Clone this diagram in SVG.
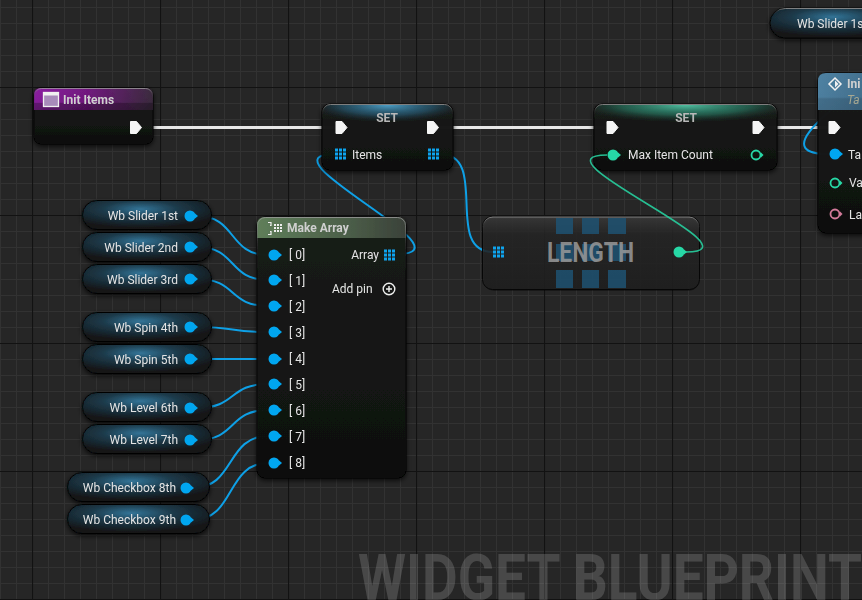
<svg xmlns="http://www.w3.org/2000/svg" xmlns:xlink="http://www.w3.org/1999/xlink" width="862" height="600" viewBox="0 0 862 600">
<defs>
<style>
.t{font-family:Roboto,"Liberation Sans",sans-serif;font-size:12px;fill:#e4e4e4}
.hb{font-family:Roboto,"Liberation Sans",sans-serif;font-size:12px;font-weight:bold;fill:#d0d0d0}
.set{font-family:Roboto,"Liberation Sans",sans-serif;font-size:12px;font-weight:bold;fill:#b8b8b8}
.nb{fill:url(#bodyG);stroke:#050505;stroke-width:1}
.rim{fill:none;stroke:url(#rimG);stroke-width:1}
.pill{fill:url(#pillG);stroke:#060606;stroke-width:1}
.w{fill:none;stroke:#0ea0e6;stroke-width:2}
.wg{fill:none;stroke:#27cf9e;stroke-width:1.6}
.ex{fill:none;stroke:#e6e6e6;stroke-width:3}
.exp{fill:#f5f5f5;stroke:#f5f5f5;stroke-width:1;stroke-linejoin:round}
</style>
<pattern id="minor" x="0" y="7" width="16" height="16" patternUnits="userSpaceOnUse">
<path d="M0.5 0V16M0 0.5H16" stroke="#323232" stroke-width="1" fill="none"/>
</pattern>
<pattern id="major" x="32" y="87" width="128" height="128" patternUnits="userSpaceOnUse">
<path d="M0.5 0V128M0 0.5H128" stroke="#121212" stroke-width="1.2" fill="none"/>
</pattern>
<linearGradient id="bodyG" x1="0" y1="0" x2="0" y2="1">
<stop offset="0" stop-color="#1a1c1a" stop-opacity="0.96"/>
<stop offset="1" stop-color="#0f100f" stop-opacity="0.96"/>
</linearGradient>
<linearGradient id="rimG" x1="0" y1="0" x2="0" y2="1">
<stop offset="0" stop-color="#9a9a9a" stop-opacity="0.8"/>
<stop offset="0.12" stop-color="#444" stop-opacity="0.3"/>
<stop offset="0.3" stop-color="#000" stop-opacity="0"/>
</linearGradient>
<radialGradient id="pillG" cx="0.45" cy="0.3" r="0.65">
<stop offset="0" stop-color="#327497"/>
<stop offset="0.45" stop-color="#1d3a4a"/>
<stop offset="1" stop-color="#121517"/>
</radialGradient>
<linearGradient id="purpleH" x1="0" y1="0" x2="1" y2="0">
<stop offset="0" stop-color="#8c1fa2"/>
<stop offset="0.45" stop-color="#72197f"/>
<stop offset="1" stop-color="#3c2c3f"/>
</linearGradient>
<linearGradient id="greenH" x1="0" y1="0" x2="1" y2="0">
<stop offset="0" stop-color="#5f7e5a"/>
<stop offset="0.6" stop-color="#4c5f49"/>
<stop offset="1" stop-color="#3a4139"/>
</linearGradient>
<linearGradient id="blueH" x1="0" y1="0" x2="1" y2="0">
<stop offset="0" stop-color="#4f82a3"/>
<stop offset="1" stop-color="#3c6784"/>
</linearGradient>
<linearGradient id="shadeH" x1="0" y1="0" x2="0" y2="1">
<stop offset="0" stop-color="#000" stop-opacity="0"/>
<stop offset="0.65" stop-color="#000" stop-opacity="0.05"/>
<stop offset="0.7" stop-color="#000" stop-opacity="0.3"/>
<stop offset="1" stop-color="#000" stop-opacity="0.35"/>
</linearGradient>
<radialGradient id="setBlue" cx="0.5" cy="0" r="0.6">
<stop offset="0" stop-color="#4fa6d0" stop-opacity="0.95"/>
<stop offset="0.6" stop-color="#2a6a8a" stop-opacity="0.55"/>
<stop offset="1" stop-color="#1a3a4a" stop-opacity="0"/>
</radialGradient>
<radialGradient id="setGreen" cx="0.5" cy="0" r="0.6">
<stop offset="0" stop-color="#52c8a8" stop-opacity="0.95"/>
<stop offset="0.6" stop-color="#2a8a70" stop-opacity="0.55"/>
<stop offset="1" stop-color="#1a4a3a" stop-opacity="0"/>
</radialGradient>
<linearGradient id="lenG" x1="0" y1="0" x2="0" y2="1">
<stop offset="0" stop-color="#3c3c3c" stop-opacity="0.85"/>
<stop offset="0.25" stop-color="#272727" stop-opacity="0.8"/>
<stop offset="1" stop-color="#202020" stop-opacity="0.85"/>
</linearGradient>
<filter id="sh" x="-20%" y="-20%" width="140%" height="150%">
<feDropShadow dx="0" dy="2" stdDeviation="2.5" flood-color="#000" flood-opacity="0.75"/>
</filter>
<g id="pinB"><circle r="5.5" fill="#06a6f0"/><path d="M5 -2.5L8 0L5 2.5Z" fill="#06a6f0"/></g>
<g id="pinG"><circle r="5.5" fill="#27d8a6"/><path d="M5 -2.5L8 0L5 2.5Z" fill="#27d8a6"/></g>
<g id="arr" fill="#0ea4ee"><rect x="0" y="0" width="3" height="3"/><rect x="4" y="0" width="3" height="3"/><rect x="8" y="0" width="3" height="3"/><rect x="0" y="4" width="3" height="3"/><rect x="4" y="4" width="3" height="3"/><rect x="8" y="4" width="3" height="3"/><rect x="0" y="8" width="3" height="3"/><rect x="4" y="8" width="3" height="3"/><rect x="8" y="8" width="3" height="3"/></g>
<path id="exec" d="M-5.5 -6H0.5L5.5 0L0.5 6H-5.5Z"/>
</defs>

<rect width="862" height="600" fill="#262626"/>
<rect width="862" height="600" fill="url(#minor)"/>
<rect width="862" height="600" fill="url(#major)"/>
<text x="358" y="600" font-family="Roboto,'Liberation Sans',sans-serif" font-size="64" font-weight="bold" fill="#ffffff" fill-opacity="0.16" textLength="504" lengthAdjust="spacingAndGlyphs">WIDGET BLUEPRINT</text>

<g id="connectors">
<path class="ex" d="M142 127.5H336"/>
<path class="ex" d="M439 127.5H607"/>
<path class="ex" d="M765 127.5H829"/>
<path class="w" d="M397 254C477 254 255 154 335 154"/>
<path class="w" d="M440 154C490 154 443 252 493 252"/>
<path class="w" d="M900 23C985 23 725 154 829 154"/>
<path class="w" d="M197 216C237 216 228 255 268 255"/>
<path class="w" d="M197 247C237 247 228 280 268 280"/>
<path class="w" d="M197 279C237 279 228 306 268 306"/>
<path class="w" d="M197 327C237 327 228 332 268 332"/>
<path class="w" d="M197 359C237 359 228 359 268 359"/>
<path class="w" d="M197 408C237 408 228 384 268 384"/>
<path class="w" d="M197 440C237 440 228 410 268 410"/>
<path class="w" d="M193 488C235 488 226 436 268 436"/>
<path class="w" d="M193 520C235 520 226 463 268 463"/>
</g>

<g id="node-init-items" filter="url(#sh)">
<rect class="nb" x="34" y="88" width="119" height="56" rx="7"/>
<path d="M34 110V95Q34 88 41 88H146Q153 88 153 95V110Z" fill="url(#purpleH)"/>
<path d="M34 110V95Q34 88 41 88H146Q153 88 153 95V110Z" fill="url(#shadeH)"/>
<rect class="rim" x="34.5" y="88.5" width="118" height="55" rx="7"/>
<rect x="43.5" y="92.5" width="15" height="14" fill="#a88bba" stroke="#f0f0f0" stroke-width="1.3"/>
<rect x="43.5" y="92.5" width="15" height="3" fill="#f0f0f0"/>
<text class="hb" x="63" y="104">Init Items</text>
<use href="#exec" x="136" y="127.5" class="exp"/>
</g>

<g id="node-set-items" filter="url(#sh)">
<rect class="nb" x="322" y="104" width="131" height="66" rx="8"/>
<rect x="323" y="105" width="129" height="28" rx="7" fill="url(#setBlue)"/>
<rect class="rim" x="322.5" y="104.5" width="130" height="65" rx="8"/>
<text class="set" x="387" y="122" text-anchor="middle">SET</text>
<use href="#exec" x="341.5" y="127.5" class="exp"/>
<use href="#exec" x="433" y="127.5" class="exp"/>
<use href="#arr" x="335" y="148.5"/>
<text class="t" x="352" y="159">Items</text>
<use href="#arr" x="428" y="148.5"/>
</g>

<g id="node-set-max" filter="url(#sh)">
<rect class="nb" x="594" y="104" width="183" height="66" rx="8"/>
<rect x="595" y="105" width="181" height="28" rx="7" fill="url(#setGreen)"/>
<rect class="rim" x="594.5" y="104.5" width="182" height="65" rx="8"/>
<text class="set" x="686" y="122" text-anchor="middle">SET</text>
<use href="#exec" x="612.5" y="127.5" class="exp"/>
<use href="#exec" x="758.5" y="127.5" class="exp"/>
<use href="#pinG" x="613" y="155"/>
<text class="t" x="628" y="159">Max Item Count</text>
<circle cx="756" cy="155" r="4.5" fill="none" stroke="#27d8a6" stroke-width="1.8"/>
<path d="M761 152.5L763.5 155L761 157.5Z" fill="#27d8a6"/>
</g>

<g id="node-init-partial" filter="url(#sh)">
<rect class="nb" x="818" y="73" width="70" height="160" rx="8"/>
<path d="M818 110V81Q818 73 826 73H888V110Z" fill="url(#blueH)"/>
<path d="M818 110V81Q818 73 826 73H888V110Z" fill="url(#shadeH)" opacity="0.5"/>
<path d="M835 78L841 84L835 90L829 84Z" fill="none" stroke="#f2f2f2" stroke-width="1.5"/>
<path d="M835 80.5L838.5 84L835 87.5Z" fill="#f2f2f2"/>
<text class="hb" x="847" y="88">Ini</text>
<text x="847" y="104" font-family="Roboto,'Liberation Sans',sans-serif" font-size="12" font-style="italic" fill="#a6a892">Ta</text>
<use href="#exec" x="834.5" y="127.5" class="exp"/>
<use href="#pinB" x="835" y="154"/>
<text class="t" x="848" y="159">Ta</text>
<circle cx="835" cy="183" r="4.5" fill="none" stroke="#27d8a6" stroke-width="1.8"/>
<path d="M840 180.5L842.5 183L840 185.5Z" fill="#27d8a6"/>
<text class="t" x="849" y="187">Va</text>
<circle cx="835" cy="214" r="4.5" fill="none" stroke="#d37a9a" stroke-width="1.8"/>
<path d="M840 211.5L842.5 214L840 216.5Z" fill="#d37a9a"/>
<text class="t" x="849" y="219">La</text>
</g>

<g id="node-wb-slider-top" filter="url(#sh)">
<rect class="pill" x="770" y="8" width="140" height="30" rx="15"/>
<rect class="rim" x="770.5" y="8.5" width="139" height="29" rx="15"/>
<text class="t" x="797" y="28">Wb Slider 1s</text>
</g>

<g id="node-make-array" filter="url(#sh)">
<rect class="nb" x="257" y="217" width="149" height="261" rx="8"/>
<path d="M257 238V225Q257 217 265 217H398Q406 217 406 225V238Z" fill="url(#greenH)"/>
<rect class="rim" x="257.5" y="217.5" width="148" height="260" rx="8"/>
<path d="M268 222.5h3v3h-1M268 234.5h3v-3h-1" fill="none" stroke="#eee" stroke-width="1.2"/>
<g fill="#eee"><rect x="274" y="224" width="2" height="2"/><rect x="277" y="224" width="2" height="2"/><rect x="280" y="224" width="2" height="2"/><rect x="274" y="227" width="2" height="2"/><rect x="277" y="227" width="2" height="2"/><rect x="280" y="227" width="2" height="2"/><rect x="274" y="230" width="2" height="2"/><rect x="277" y="230" width="2" height="2"/><rect x="280" y="230" width="2" height="2"/></g>
<text class="hb" x="287" y="232">Make Array</text>
<use href="#pinB" x="274" y="255"/><text class="t" x="289" y="259">[ 0]</text>
<use href="#pinB" x="274" y="280"/><text class="t" x="289" y="285">[ 1]</text>
<use href="#pinB" x="274" y="306"/><text class="t" x="289" y="311">[ 2]</text>
<use href="#pinB" x="274" y="332"/><text class="t" x="289" y="337">[ 3]</text>
<use href="#pinB" x="274" y="359"/><text class="t" x="289" y="363">[ 4]</text>
<use href="#pinB" x="274" y="384"/><text class="t" x="289" y="389">[ 5]</text>
<use href="#pinB" x="274" y="410"/><text class="t" x="289" y="415">[ 6]</text>
<use href="#pinB" x="274" y="436"/><text class="t" x="289" y="441">[ 7]</text>
<use href="#pinB" x="274" y="463"/><text class="t" x="289" y="467">[ 8]</text>
<text class="t" x="379" y="259" text-anchor="end">Array</text>
<use href="#arr" x="384" y="249.5"/>
<text class="t" x="332" y="293">Add pin</text>
<circle cx="389" cy="289" r="5.8" fill="none" stroke="#eee" stroke-width="1.4"/>
<path d="M386 289H392M389 286V292" stroke="#eee" stroke-width="1.4"/>
</g>

<g id="node-length">
<rect x="484" y="219" width="215" height="72" rx="10" fill="#000" fill-opacity="0.35"/>
<rect x="482.5" y="216.5" width="217" height="73" rx="10" fill="url(#lenG)" stroke="#060606"/>
<rect class="rim" x="483" y="217" width="216" height="72" rx="10"/>
<g fill="#1f5272" fill-opacity="0.85">
<rect x="556" y="218" width="17" height="16"/><rect x="582" y="218" width="17" height="16"/><rect x="608" y="218" width="18" height="16"/>
<rect x="556" y="244" width="17" height="17"/><rect x="582" y="244" width="17" height="17"/><rect x="608" y="244" width="18" height="17"/>
<rect x="556" y="270" width="17" height="18"/><rect x="582" y="270" width="17" height="18"/><rect x="608" y="270" width="18" height="18"/>
</g>
<text x="547" y="262" font-family="Roboto,'Liberation Sans',sans-serif" font-size="28" font-weight="bold" fill="#9a9a9a" fill-opacity="0.85" textLength="87" lengthAdjust="spacingAndGlyphs">LENGTH</text>
<use href="#arr" x="493" y="246.5"/>
<use href="#pinG" x="679" y="252"/>
</g>

<g id="connector-length-max">
<path class="wg" d="M686 252C766 252 527 155 607 155" stroke-opacity="0.9"/>
</g>

<g id="node-wb-slider-1st" filter="url(#sh)">
<rect class="pill" x="82.5" y="200.5" width="129" height="29" rx="14.5"/>
<text class="t" x="178" y="220" text-anchor="end">Wb Slider 1st</text>
<use href="#pinB" x="190" y="216"/>
</g>
<g id="node-wb-slider-2nd" filter="url(#sh)">
<rect class="pill" x="82.5" y="232.5" width="129" height="29" rx="14.5"/>
<text class="t" x="178" y="252" text-anchor="end">Wb Slider 2nd</text>
<use href="#pinB" x="190" y="247"/>
</g>
<g id="node-wb-slider-3rd" filter="url(#sh)">
<rect class="pill" x="82.5" y="264.5" width="129" height="29" rx="14.5"/>
<text class="t" x="178" y="284" text-anchor="end">Wb Slider 3rd</text>
<use href="#pinB" x="190" y="279"/>
</g>
<g id="node-wb-spin-4th" filter="url(#sh)">
<rect class="pill" x="82.5" y="312.5" width="129" height="29" rx="14.5"/>
<text class="t" x="178" y="332" text-anchor="end">Wb Spin 4th</text>
<use href="#pinB" x="190" y="327"/>
</g>
<g id="node-wb-spin-5th" filter="url(#sh)">
<rect class="pill" x="82.5" y="344.5" width="129" height="29" rx="14.5"/>
<text class="t" x="178" y="364" text-anchor="end">Wb Spin 5th</text>
<use href="#pinB" x="190" y="359"/>
</g>
<g id="node-wb-level-6th" filter="url(#sh)">
<rect class="pill" x="82.5" y="392.5" width="129" height="29" rx="14.5"/>
<text class="t" x="178" y="412" text-anchor="end">Wb Level 6th</text>
<use href="#pinB" x="190" y="408"/>
</g>
<g id="node-wb-level-7th" filter="url(#sh)">
<rect class="pill" x="82.5" y="424.5" width="129" height="29" rx="14.5"/>
<text class="t" x="178" y="444" text-anchor="end">Wb Level 7th</text>
<use href="#pinB" x="190" y="440"/>
</g>
<g id="node-wb-checkbox-8th" filter="url(#sh)">
<rect class="pill" x="67.5" y="472.5" width="142" height="29" rx="14.5"/>
<text class="t" x="176" y="492" text-anchor="end">Wb Checkbox 8th</text>
<use href="#pinB" x="186" y="488"/>
</g>
<g id="node-wb-checkbox-9th" filter="url(#sh)">
<rect class="pill" x="67.5" y="504.5" width="142" height="29" rx="14.5"/>
<text class="t" x="176" y="524" text-anchor="end">Wb Checkbox 9th</text>
<use href="#pinB" x="186" y="520"/>
</g>
</svg>
